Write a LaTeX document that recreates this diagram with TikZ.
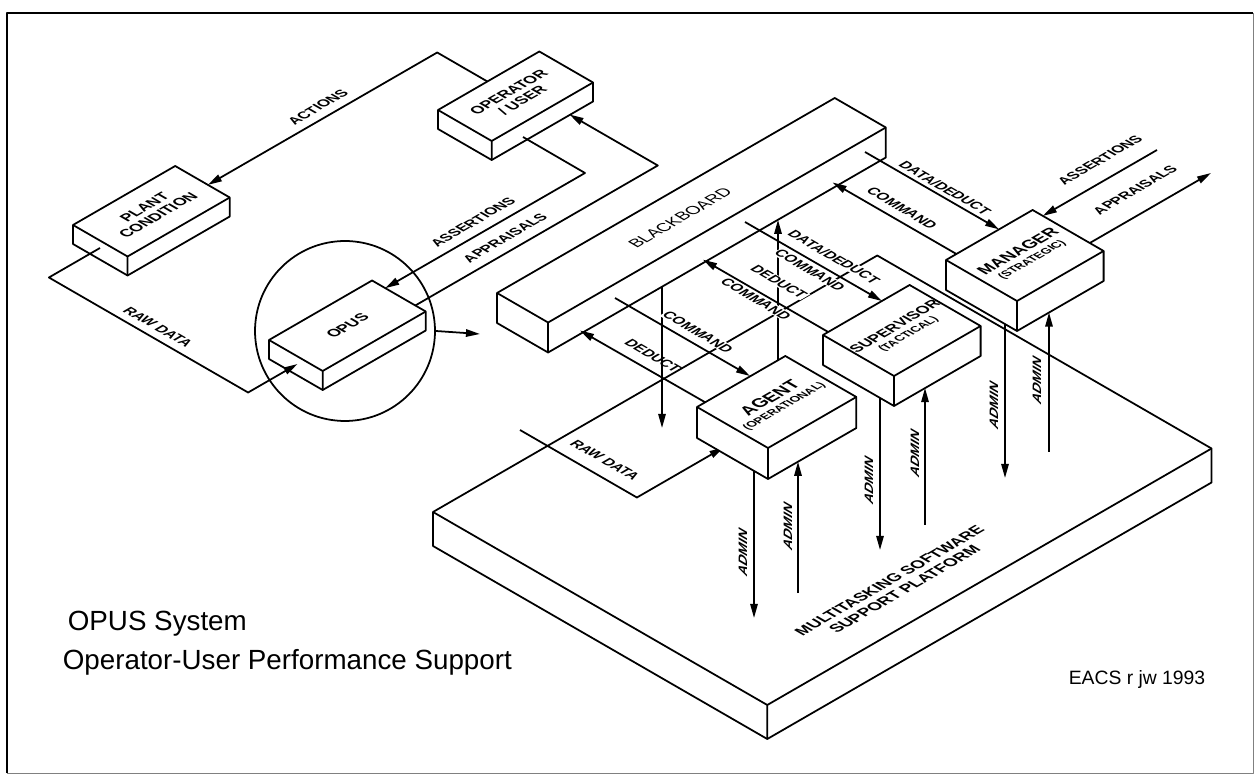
\documentclass[tikz,border=0pt]{standalone}
\usepackage{fontspec}
\setmainfont{Liberation Sans}
\usetikzlibrary{arrows.meta,calc}

% isometric block: name, left corner x, y, length along u, length along v, height
\newcommand{\isobox}[6]{%
  \coordinate (#1-l) at (#2,#3);
  \coordinate (#1-t) at ($(#1-l)+({0.866*#4},{-0.5*#4})$);
  \coordinate (#1-b) at ($(#1-l)+({0.866*#5},{0.5*#5})$);
  \coordinate (#1-r) at ($(#1-t)+({0.866*#5},{0.5*#5})$);
  \coordinate (#1-c) at ($(#1-l)!0.5!(#1-r)$);
  \filldraw[boxface] (#1-l) -- (#1-t) -- (#1-r) -- ($(#1-r)+(0,#6)$) -- ($(#1-b)+(0,#6)$) -- ($(#1-l)+(0,#6)$) -- cycle;
  \draw[boxface, fill=none] (#1-l) -- (#1-b) -- (#1-r) (#1-b) -- ($(#1-b)+(0,#6)$);
}
\newcommand{\subtxt}[1]{{\bfseries\fontsize{6.5}{7}\selectfont #1}}

\begin{document}
\begin{tikzpicture}[
  x=0.02cm, y=-0.02cm,
  line width=1pt, line join=round,
  boxface/.style={draw, fill=white, line width=1pt},
  wire/.style={line width=1pt},
  arr/.style={wire, -{Triangle[length=8pt,width=4.2pt]}},
  lbl/.style={font=\bfseries\fontsize{8}{9}\selectfont, inner sep=0.6pt},
  boxlbl/.style={font=\bfseries\fontsize{8.5}{9}\selectfont, align=center, inner sep=0pt},
  isou/.style={transform shape, cm={0.866,0.5,-0.866,0.5,(0,0)}},
  isov/.style={transform shape, cm={0.866,-0.5,0.866,0.5,(0,0)}},
  isoz/.style={transform shape, cm={0,1,-0.866,0.5,(0,0)}},
  title/.style={font=\fontsize{15.8}{18}\selectfont, inner sep=0pt, anchor=base west}
]
\useasboundingbox (0,0) rectangle (1254,776);

% frame
\draw[line width=1.3pt] (7,773) -- (7,13) -- (1253,13);
\draw[line width=0.4pt, gray] (1253,13) -- (1253,773) -- (7,773);

% support platform
\isobox{plat}{433}{512}{513}{386}{34}

% raw data into agent
\coordinate (rawB0) at (520,430);
\coordinate (rawB1) at (636.9,497.5);
\coordinate (rawB2) at (723.5,447.5);
\draw[arr] (rawB0) -- (rawB1) -- (rawB2);

% blackboard to platform
\coordinate (bbdn0) at (662,286.8);
\coordinate (bbdn1) at (662,428);
\coordinate (bbup0) at (778,460);
\coordinate (bbup1) at (778,219.8);
\draw[arr] (bbdn0) -- (bbdn1);
\draw[arr] (bbup0) -- (bbup1);

% blocks
\isobox{bb}{497}{293}{390}{59}{30}
\isobox{mgr}{946}{260}{100}{82}{30}
\isobox{sup}{823}{335}{100}{82}{30}
\isobox{agt}{697}{407}{102}{82}{31}

% admin arrows
\draw[arr] (1005,324) coordinate (mgrA0) -- (1005,478) coordinate (mgrA1);
\draw[arr] (1049,452) coordinate (mgrB0) -- (1049,312.5) coordinate (mgrB1);
\draw[arr] (880,397.9) coordinate (supA0) -- (880,550) coordinate (supA1);
\draw[arr] (925,525) coordinate (supB0) -- (925,388) coordinate (supB1);
\draw[arr] (754,470.9) coordinate (agtA0) -- (754,618) coordinate (agtA1);
\draw[arr] (798,593) coordinate (agtB0) -- (798,461.7) coordinate (agtB1);

% left loop
\node[circle, draw, line width=1pt, minimum size=3.6cm, inner sep=0pt] (opusring) at (345,331) {};
\coordinate (opusout) at (480,334);
\draw[arr] (opusring.east) -- (opusout);
\isobox{plant}{73}{225}{118}{63}{19}
\isobox{oper}{438}{110}{117}{62}{19}
\isobox{opus}{269}{340}{119}{62}{19}

\coordinate (act0) at (487.4,81.5);
\coordinate (act1) at (437.2,52.5);
\coordinate (act2) at (207.9,184.9);
\draw[arr] (act0) -- (act1) -- (act2);

\coordinate (rawA0) at (100,248);
\coordinate (rawA1) at (48.9,277.5);
\coordinate (rawA2) at (248.1,392.5);
\coordinate (rawA3) at (297.5,364);
\draw[arr] (rawA0) -- (rawA1) -- (rawA2) -- (rawA3);

\coordinate (asr0) at (523,137);
\coordinate (asr1) at (585,173);
\coordinate (asr2) at (385.2,288.2);
\draw[arr] (asr0) -- (asr1) -- (asr2);

\coordinate (apr0) at (415.3,305.5);
\coordinate (apr1) at (657.8,165.5);
\coordinate (apr2) at (569.5,114.5);
\draw[arr] (apr0) -- (apr1) -- (apr2);

% manager links
\coordinate (mdd0) at (865,152);
\coordinate (mdd1) at (999.1,229.4);
\draw[arr] (mdd0) -- (mdd1);
\coordinate (mcm0) at (956.4,254);
\coordinate (mcm1) at (832.6,182.5);
\draw[arr] (mcm0) -- (mcm1);
\coordinate (mas0) at (1157,150);
\coordinate (mas1) at (1042.8,215.9);
\draw[arr] (mas0) -- (mas1);
\coordinate (map0) at (1089.8,243);
\coordinate (map1) at (1211,173);
\draw[arr] (map0) -- (map1);

% supervisor links
\coordinate (sdd0) at (745,222);
\coordinate (sdd1) at (881.9,301);
\draw[arr] (sdd0) -- (sdd1);
\coordinate (sde0) at (828.2,332);
\coordinate (sde1) at (703,259.7);
\draw[arr] (sde0) -- (sde1);

% agent links
\coordinate (acm0) at (615,298);
\coordinate (acm1) at (750,376);
\draw[arr] (acm0) -- (acm1);
\coordinate (ade0) at (705.2,402.3);
\coordinate (ade1) at (580,330.5);
\draw[arr] (ade0) -- (ade1);

% block texts
\node[boxlbl, isou] (plantlbl) at (plant-c) {PLANT\\CONDITION};
\node[boxlbl, isou] (operlbl) at (oper-c) {OPERATOR\\/ USER};
\node[boxlbl, isou] (opuslbl) at (opus-c) {OPUS};
\node[isou, font=\fontsize{9.3}{10}\selectfont, inner sep=0pt] (bblbl) at (680,218) {BLACKBOARD};
\node[boxlbl, isou] (mgrlbl) at (mgr-c) {\fontsize{9.5}{10}\selectfont MANAGER\\[-1pt]\subtxt{(STRATEGIC)}};
\node[boxlbl, isou] (suplbl) at (sup-c) {\fontsize{8.5}{10}\selectfont SUPERVISOR\\[-1pt]\subtxt{(TACTICAL)}};
\node[boxlbl, isou] (agtlbl) at (agt-c) {\fontsize{10}{10}\selectfont AGENT\\[-1pt]\subtxt{(OPERATIONAL)}};
\node[boxlbl, isou, font=\bfseries\fontsize{9}{10}\selectfont] (platlbl) at (897,585) {MULTITASKING SOFTWARE\\SUPPORT PLATFORM};

% link texts
\node[lbl, isou] (actlbl) at (318,107) {ACTIONS};
\node[lbl, isov] (rawAlbl) at (158,327) {RAW DATA};
\node[lbl, isou] (asrlbl) at (473,222) {ASSERTIONS};
\node[lbl, isou] (aprlbl) at (505,238) {APPRAISALS};
\node[lbl, isov] (mddlbl) at (945,188) {DATA/DEDUCT};
\node[lbl, isov] (mcmlbl) at (902,208) {COMMAND};
\node[lbl, isou] (maslbl) at (1100,160) {ASSERTIONS};
\node[lbl, isou] (maplbl) at (1135,190) {APPRAISALS};
\node[lbl, isov, fill=white] (sddlbl) at (834,257) {DATA/DEDUCT};
\node[lbl, isov, fill=white] (scmlbl) at (810,270) {COMMAND};
\node[lbl, isov, fill=white] (sdelbl) at (779,282) {DEDUCT};
\node[lbl, isov, fill=white] (scm2lbl) at (756,299) {COMMAND};
\node[lbl, isov, fill=white] (acmlbl) at (698,332) {COMMAND};
\node[lbl, isov] (adelbl) at (653,356) {DEDUCT};
\node[lbl, isov, fill=white] (rawBlbl) at (605,460) {RAW DATA};
\node[lbl, isoz] (mgrAlbl) at (994,405) {ADMIN};
\node[lbl, isoz] (mgrBlbl) at (1037,380) {ADMIN};
\node[lbl, isoz] (supAlbl) at (869,480) {ADMIN};
\node[lbl, isoz] (supBlbl) at (915,453) {ADMIN};
\node[lbl, isoz] (agtAlbl) at (743,552) {ADMIN};
\node[lbl, isoz] (agtBlbl) at (788,526) {ADMIN};

% captions
\node[title] (ttl1) at (67,630) {OPUS System};
\node[title] (ttl2) at (62,669) {Operator-User Performance Support};
\node[font=\fontsize{11}{13}\selectfont, inner sep=0pt] (sig) at (1137,680) {EACS r jw 1993};
\end{tikzpicture}
\end{document}
